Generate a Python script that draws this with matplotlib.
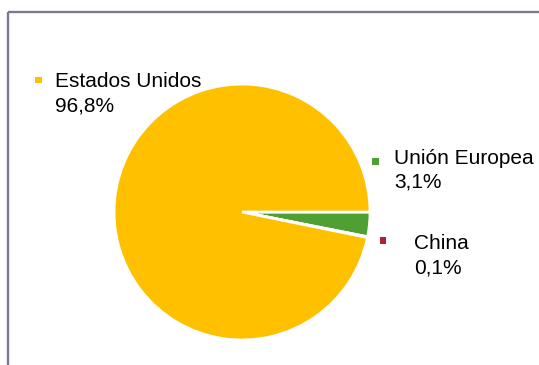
import matplotlib
matplotlib.use("Agg")
import matplotlib.pyplot as plt
from matplotlib.patches import Rectangle

plt.rcParams['font.family'] = ['Liberation Sans', 'DejaVu Sans']

# Share of the market by origin
regions = ["Unión Europea", "China", "Estados Unidos"]
shares = [3.1, 0.1, 96.8]
colors = ["#4F9F32", "#AE2238", "#FFC000"]

W, H = 539, 365
fig = plt.figure(figsize=(W / 100, H / 100), dpi=100)
ax = fig.add_axes([0, 0, 1, 1])

# pixel-like data space, y pointing down
ax.pie(shares, colors=colors, startangle=0, counterclock=True,
       center=(242, 212), radius=128, explode=[0.025, 0, 0],
       frame=True,
       wedgeprops=dict(edgecolor="white", linewidth=2.0))
ax.set_xlim(0, W)
ax.set_ylim(H, 0)
ax.set_aspect("auto")
ax.axis("off")

# outer chart border (left and top edges visible)
ax.add_patch(Rectangle((7.7, 12.2), 700, 500, fill=False,
                       edgecolor="#7A7B92", linewidth=1.7, zorder=5))

def pct(v):
    return f"{v:.1f}".replace(".", ",") + "%"

# label placements: (marker x, marker y, text x, first baseline)
label_pos = {
    "Estados Unidos": (38.5, 80, 55, 87),
    "Unión Europea": (375.7, 161.7, 394, 164),
    "China": (383, 240.3, 414, 249),
}
fs = 15
pitch = 24
for name, val, col in zip(regions, shares, colors):
    mx, my, tx, ty = label_pos[name]
    ax.add_patch(Rectangle((mx - 3.3, my - 3.3), 6.6, 6.6, facecolor=col,
                           edgecolor="none", zorder=6))
    ax.text(tx, ty, name, fontsize=fs, color="black", ha="left", va="baseline")
    ax.text(tx, ty + pitch, pct(val), fontsize=fs, color="black",
            ha="left", va="baseline")

fig.savefig("out.png", dpi=100, facecolor="white")
